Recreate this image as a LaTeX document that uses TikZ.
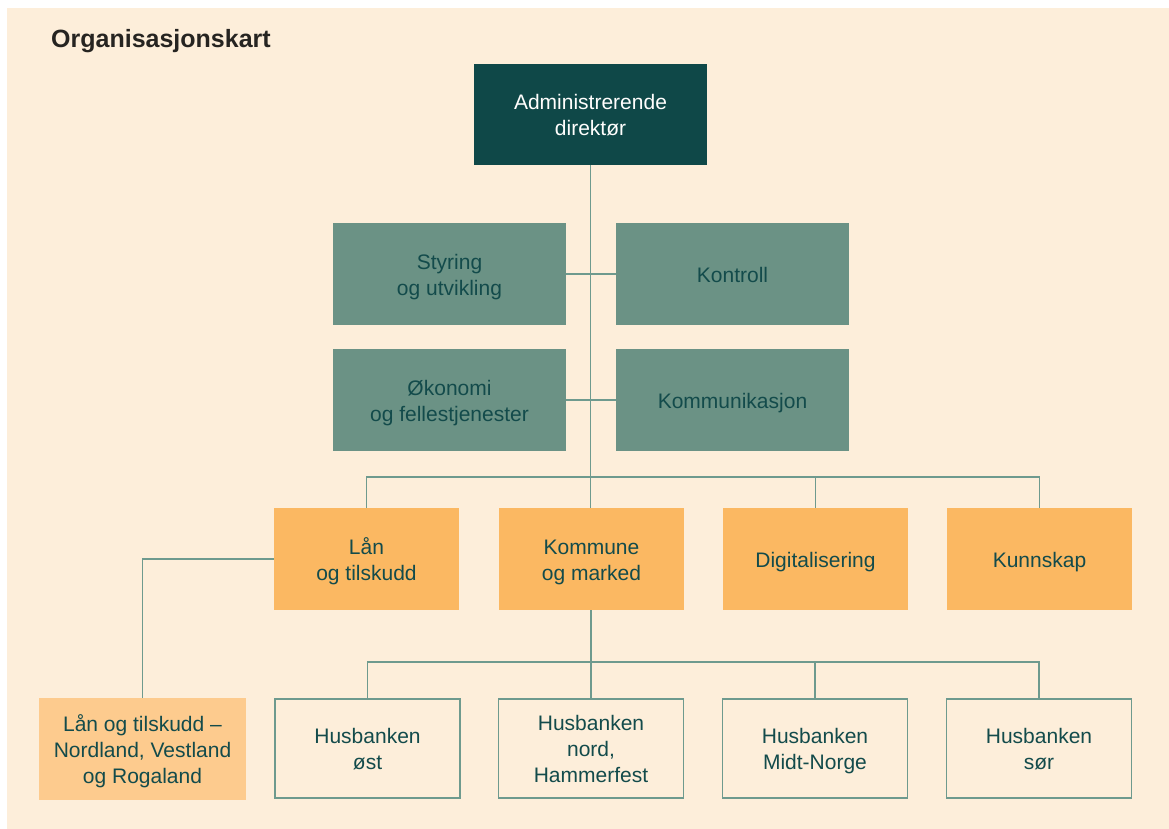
\documentclass[tikz,border=0pt]{standalone}
\usepackage{fontspec}
\setmainfont{Liberation Sans}
\definecolor{bgc}{HTML}{FDEEDA}
\definecolor{darkteal}{HTML}{0F4848}
\definecolor{midteal}{HTML}{6B9285}
\definecolor{orangec}{HTML}{FBB862}
\definecolor{lightorange}{HTML}{FDCB8E}
\definecolor{linec}{HTML}{6E9A8E}
\definecolor{txtc}{HTML}{134B4B}
\newcommand{\topstrut}{\rule{0pt}{21pt}}
\newcommand{\botstrut}{\rule[-4.3pt]{0pt}{4.3pt}}
\begin{document}
\begin{tikzpicture}[x=1pt,y=-1pt,
  box/.style={rectangle, inner sep=0pt, align=center, text=txtc,
    font=\fontsize{21}{26}\selectfont},
  topbox/.style={box, fill=darkteal, text={white!94!bgc}, minimum width=233pt, minimum height=101pt},
  staffbox/.style={box, fill=midteal, minimum width=233pt, minimum height=102pt},
  deptbox/.style={box, fill=orangec, minimum width=185pt, minimum height=102pt},
  subbox/.style={box, fill=lightorange, minimum width=207pt, minimum height=102pt},
  regbox/.style={box, draw=linec, line width=1.6pt, minimum width=185pt, minimum height=99pt},
  conn/.style={draw=linec, line width=1.6pt}]
\useasboundingbox (0,0) rectangle (1169,829);
\fill[bgc] (7,8) rectangle (1169,829);
\node[anchor=base west, inner sep=0pt, text={black!85!bgc}, font=\fontsize{25}{30}\selectfont\bfseries] (title) at (51,47.5) {Organisasjonskart};

\node[topbox] (adm) at (590.5,114.5) {\topstrut Administrerende\\direktør\botstrut};
\node[staffbox] (sty) at (449.5,274) {\topstrut Styring\\og utvikling\botstrut};
\node[staffbox] (kon) at (732.5,274) {\topstrut Kontroll\botstrut};
\node[staffbox] (oko) at (449.5,400) {\topstrut Økonomi\\og fellestjenester\botstrut};
\node[staffbox] (kmk) at (732.5,400) {\topstrut Kommunikasjon\botstrut};

\node[deptbox] (lan) at (366.5,559) {\topstrut Lån\\og tilskudd\botstrut};
\node[deptbox] (kom) at (591.5,559) {\topstrut Kommune\\og marked\botstrut};
\node[deptbox] (dig) at (815.5,559) {\topstrut Digitalisering\botstrut};
\node[deptbox] (kun) at (1039.5,559) {\topstrut Kunnskap\botstrut};

\node[subbox] (lnv) at (142.5,749) {\topstrut Lån og tilskudd –\\Nordland, Vestland\\og Rogaland\botstrut};

\node[regbox] (ost) at (367.5,748.5) {\topstrut Husbanken\\øst\botstrut};
\node[regbox] (nor) at (591,748.5) {\topstrut Husbanken\\nord,\\Hammerfest\botstrut};
\node[regbox] (mid) at (815,748.5) {\topstrut Husbanken\\Midt-Norge\botstrut};
\node[regbox] (sor) at (1039,748.5) {\topstrut Husbanken\\sør\botstrut};

\coordinate (bus1) at (591,477);
\coordinate (bus2) at (591,662);

\draw[conn] (adm.south) -- (adm.south |- kom.north);
\draw[conn] (sty.east) -- (kon.west);
\draw[conn] (oko.east) -- (kmk.west);
\draw[conn] (lan.north) |- (bus1) -| (kun.north);
\draw[conn] (dig.north) -- (dig.north |- bus1);
\draw[conn] (lan.west) -| (lnv.north);
\draw[conn] (kom.south -| nor.north) -- (nor.north);
\draw[conn] (ost.north) |- (bus2) -| (sor.north);
\draw[conn] (mid.north) -- (mid.north |- bus2);
\end{tikzpicture}
\end{document}
